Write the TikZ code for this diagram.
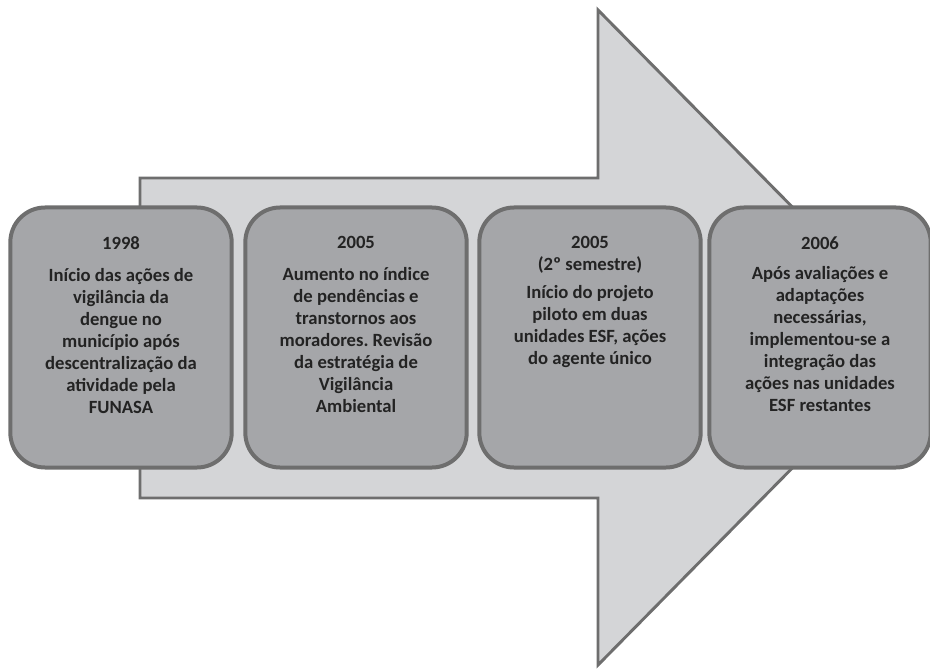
\documentclass[tikz,border=0pt]{standalone}
\usepackage{fontspec}
\setmainfont{Carlito}
\usepackage{xcolor}
\usepackage{tikz}
\usetikzlibrary{positioning}
\definecolor{arrowfill}{RGB}{212,213,215}
\definecolor{boxfill}{RGB}{165,166,169}
\definecolor{edgegray}{RGB}{110,110,110}
\definecolor{textgray}{RGB}{35,35,35}
\tikzset{
  stagebox/.style={draw=edgegray,line width=3pt,fill=boxfill,rounded corners=26pt,minimum width=166pt,minimum height=195pt,inner sep=0pt},
  stagetext/.style={anchor=north,align=center,text=textgray,font=\bfseries\fontsize{14}{16.5}\selectfont,inner sep=0pt}
}
\frenchspacing
\begin{document}
\begin{tikzpicture}[x=0.75pt,y=0.75pt,yscale=-1,xscale=1]
\useasboundingbox (0,0) rectangle (930,670);

%Big arrow
\draw [draw=edgegray,line width=2.2pt,fill=arrowfill,line join=miter]
  (140,178) -- (598,178) -- (598,10) -- (921,337.5) -- (598,665) -- (598,498) -- (140,498) -- cycle ;

%Stage boxes
\node [stagebox] (b1998) at (121,337.5) {};
\node [stagebox] (b2005) at (356,337.5) {};
\node [stagebox] (b2005s) at (590,337.5) {};
\node [stagebox] (b2006) at (820,337.5) {};

%Texts
\node [stagetext,below=23pt of b1998.north] (t1998) {1998\\[7.5pt]Início das ações de\\vigilância da\\dengue no\\município após\\descentralização da\\atividade pela\\FUNASA};
\node [stagetext,below=23pt of b2005.north] (t2005) {2005\\[7.5pt]Aumento no índice\\de pendências e\\transtornos aos\\moradores. Revisão\\da estratégia de\\Vigilância\\Ambiental};
\node [stagetext,below=23pt of b2005s.north] (t2005s) {2005\\(2º semestre)\\[4.5pt]Início do projeto\\piloto em duas\\unidades ESF, ações\\do agente único};
\node [stagetext,below=23pt of b2006.north] (t2006) {2006\\[6.5pt]Após avaliações e\\adaptações\\necessárias,\\implementou-se a\\integração das\\ações nas unidades\\ESF restantes};

\end{tikzpicture}
\end{document}
